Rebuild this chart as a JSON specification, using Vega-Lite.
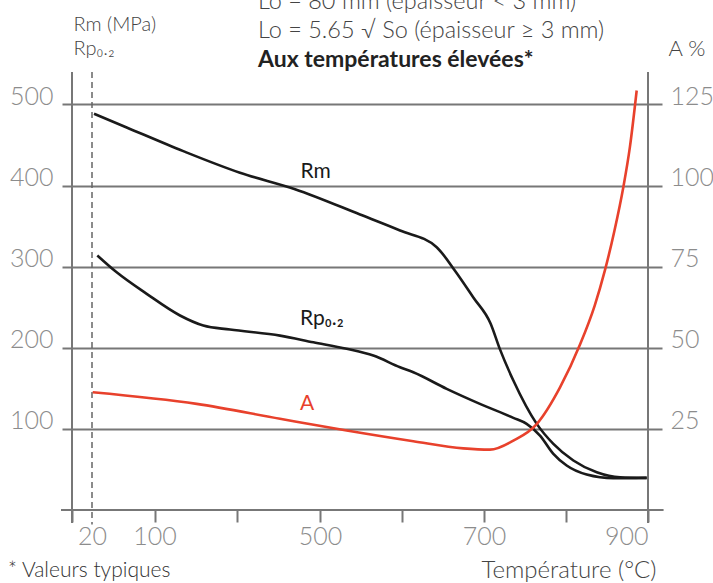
{
  "$schema": "https://vega.github.io/schema/vega-lite/v6.json",
  "width": 576,
  "height": 438,
  "autosize": {"type": "none"},
  "padding": {"left": 72, "top": 72, "right": 65, "bottom": 73},
  "background": "white",
  "config": {
    "view": {"stroke": null},
    "font": "Lato",
    "axis": {
      "domain": false,
      "tickColor": "#777777",
      "tickWidth": 2,
      "gridColor": "#777777",
      "gridWidth": 1.8,
      "labelColor": "#8c8c8c",
      "labelFont": "Lato",
      "labelFontSize": 25,
      "labelFontWeight": 300,
      "titleFont": "Lato",
      "titleFontWeight": 300,
      "titleColor": "#444444"
    }
  },
  "title": {
    "text": ["Lo = 80 mm (épaisseur < 3 mm)", "Lo = 5.65 √ So (épaisseur ≥ 3 mm)"],
    "subtitle": "Aux températures élevées*",
    "anchor": "start",
    "frame": "group",
    "dx": 186,
    "offset": -58,
    "font": "Lato",
    "fontSize": 23.5,
    "fontWeight": 300,
    "color": "#444444",
    "lineHeight": 29,
    "subtitleFont": "Lato",
    "subtitleFontSize": 23,
    "subtitleFontWeight": "bold",
    "subtitleColor": "#222222",
    "subtitlePadding": 7
  },
  "datasets": {
    "mech": [
      {"series": "Rm", "T": 22.6, "value": 488.5},
      {"series": "Rm", "T": 64.4, "value": 471.6},
      {"series": "Rm", "T": 169.6, "value": 442.4},
      {"series": "Rm", "T": 306.6, "value": 415.8},
      {"series": "Rm", "T": 439.6, "value": 395.5},
      {"series": "Rm", "T": 548.8, "value": 364.3},
      {"series": "Rm", "T": 597.6, "value": 344.6},
      {"series": "Rm", "T": 642.3, "value": 324},
      {"series": "Rm", "T": 664.6, "value": 295},
      {"series": "Rm", "T": 687, "value": 262},
      {"series": "Rm", "T": 708, "value": 230},
      {"series": "Rm", "T": 719.5, "value": 198},
      {"series": "Rm", "T": 735.8, "value": 159.6},
      {"series": "Rm", "T": 764.3, "value": 106.2},
      {"series": "Rm", "T": 784.6, "value": 81.5},
      {"series": "Rm", "T": 809, "value": 61},
      {"series": "Rm", "T": 837.5, "value": 46.5},
      {"series": "Rm", "T": 866, "value": 40.3},
      {"series": "Rm", "T": 898.4, "value": 39.6},
      {"series": "Rp", "T": 26.8, "value": 313.8},
      {"series": "Rp", "T": 51.6, "value": 293},
      {"series": "Rp", "T": 90, "value": 266.5},
      {"series": "Rp", "T": 161.6, "value": 239.8},
      {"series": "Rp", "T": 218, "value": 227.4},
      {"series": "Rp", "T": 282.5, "value": 222.5},
      {"series": "Rp", "T": 403.3, "value": 215},
      {"series": "Rp", "T": 484, "value": 206.8},
      {"series": "Rp", "T": 532.5, "value": 198.7},
      {"series": "Rp", "T": 565, "value": 190.4},
      {"series": "Rp", "T": 597.6, "value": 176},
      {"series": "Rp", "T": 613.8, "value": 169.8},
      {"series": "Rp", "T": 654.5, "value": 149.4},
      {"series": "Rp", "T": 695, "value": 130.9},
      {"series": "Rp", "T": 735.8, "value": 113.6},
      {"series": "Rp", "T": 752, "value": 106.2},
      {"series": "Rp", "T": 768.3, "value": 91.8},
      {"series": "Rp", "T": 784.6, "value": 69.2},
      {"series": "Rp", "T": 800.8, "value": 54.8},
      {"series": "Rp", "T": 825.2, "value": 43.7},
      {"series": "Rp", "T": 857.7, "value": 39.1},
      {"series": "Rp", "T": 898.4, "value": 39.6}
    ],
    "elong": [
      {"T": 20.9, "A": 36.3},
      {"T": 202, "A": 32.7},
      {"T": 403.3, "A": 28.1},
      {"T": 532.5, "A": 24.5},
      {"T": 613.8, "A": 21.2},
      {"T": 674.8, "A": 19},
      {"T": 707.3, "A": 18.6},
      {"T": 735.8, "A": 21.4},
      {"T": 764.3, "A": 26.5},
      {"T": 792.7, "A": 37.8},
      {"T": 817.1, "A": 51},
      {"T": 835, "A": 63},
      {"T": 847.6, "A": 74},
      {"T": 859, "A": 86},
      {"T": 869.9, "A": 99.5},
      {"T": 878, "A": 112},
      {"T": 886.2, "A": 129.3}
    ],
    "labels": [
      {"T": 453, "value": 409.6, "text": "Rm"},
      {"T": 451.7, "value": 227.5, "text": "Rp₀.₂"}
    ]
  },
  "layer": [
    {
      "layer": [
        {
          "data": {"name": "mech"},
          "mark": {"type": "line", "interpolate": "monotone", "color": "#1a1a1a", "strokeWidth": 2.6},
          "encoding": {
            "x": {
              "field": "T", "type": "quantitative",
              "scale": {"domain": [0, 20, 100, 500, 900], "range": [0, 20, 82.5, 248, 576], "nice": false, "zero": false},
              "axis": {
                "values": [0, 20, 100, 300, 500, 600, 700, 800, 900],
                "grid": false,
                "tickSize": 12,
                "tickOpacity": {"condition": {"test": "datum.value == 20", "value": 0}, "value": 1},
                "labelPadding": 2,
                "labelExpr": "(datum.value == 0 || datum.value == 300 || datum.value == 600 || datum.value == 800) ? '' : datum.label",
                "title": "Température (°C)",
                "titleFontSize": 24,
                "titleAlign": "right",
                "titleBaseline": "alphabetic",
                "titleX": 584,
                "titleY": 67
              }
            },
            "y": {
              "field": "value", "type": "quantitative",
              "scale": {"domain": [0, 540], "nice": false},
              "axis": {
                "orient": "left",
                "values": [100, 200, 300, 400, 500],
                "grid": true,
                "tickSize": 10,
                "labelPadding": 9,
                "labelAlign": "right",
                "labelBaseline": "alphabetic",
                "title": ["Rm (MPa)", "Rp₀.₂"],
                "titleAngle": 0,
                "titleAlign": "left",
                "titleBaseline": "alphabetic",
                "titleX": 1,
                "titleY": -42,
                "titleFontSize": 20,
                "titleLineHeight": 24
              }
            },
            "detail": {"field": "series"}
          }
        },
        {
          "data": {"values": [{}]},
          "mark": {"type": "rule", "color": "#666666", "strokeWidth": 1.5, "strokeDash": [6, 4]},
          "encoding": {
            "x": {"datum": 20, "type": "quantitative", "scale": {"domain": [0, 20, 100, 500, 900], "range": [0, 20, 82.5, 248, 576], "nice": false, "zero": false}},
            "y": {"datum": 540, "type": "quantitative", "scale": {"domain": [0, 540], "nice": false}},
            "y2": {"datum": -18}
          }
        },
        {
          "data": {"values": [{"T": 0}, {"T": 900}]},
          "mark": {"type": "rule", "color": "#777777", "strokeWidth": 2},
          "encoding": {
            "x": {"field": "T", "type": "quantitative", "scale": {"domain": [0, 20, 100, 500, 900], "range": [0, 20, 82.5, 248, 576], "nice": false, "zero": false}},
            "y": {"datum": 540, "type": "quantitative", "scale": {"domain": [0, 540], "nice": false}},
            "y2": {"datum": -16}
          }
        },
        {
          "data": {"values": [{}]},
          "mark": {"type": "rule", "color": "#777777", "strokeWidth": 2},
          "encoding": {
            "x": {"datum": -11, "type": "quantitative", "scale": {"domain": [0, 20, 100, 500, 900], "range": [0, 20, 82.5, 248, 576], "nice": false, "zero": false}},
            "x2": {"datum": 919},
            "y": {"datum": 0, "type": "quantitative", "scale": {"domain": [0, 540], "nice": false}}
          }
        },
        {
          "data": {"name": "labels"},
          "mark": {"type": "text", "align": "left", "baseline": "alphabetic", "fontSize": 21, "color": "#1a1a1a", "font": "Lato"},
          "encoding": {
            "x": {"field": "T", "type": "quantitative", "scale": {"domain": [0, 20, 100, 500, 900], "range": [0, 20, 82.5, 248, 576], "nice": false, "zero": false}},
            "y": {"field": "value", "type": "quantitative", "scale": {"domain": [0, 540], "nice": false}},
            "text": {"field": "text"}
          }
        },
        {
          "data": {"values": [{"note": "* Valeurs typiques"}]},
          "mark": {"type": "text", "align": "left", "baseline": "alphabetic", "fontSize": 21, "fontWeight": 300, "color": "#333333", "font": "Lato"},
          "encoding": {
            "x": {"datum": -64, "type": "quantitative", "scale": {"domain": [0, 20, 100, 500, 900], "range": [0, 20, 82.5, 248, 576], "nice": false, "zero": false}},
            "y": {"datum": -82, "type": "quantitative", "scale": {"domain": [0, 540], "nice": false}},
            "text": {"field": "note"}
          }
        }
      ]
    },
    {
      "layer": [
        {
          "data": {"name": "elong"},
          "mark": {"type": "line", "interpolate": "monotone", "color": "#e8412c", "strokeWidth": 2.6},
          "encoding": {
            "x": {"field": "T", "type": "quantitative", "scale": {"domain": [0, 20, 100, 500, 900], "range": [0, 20, 82.5, 248, 576], "nice": false, "zero": false}},
            "y": {
              "field": "A", "type": "quantitative",
              "scale": {"domain": [0, 135], "nice": false},
              "axis": {
                "orient": "right",
                "values": [25, 50, 75, 100, 125],
                "grid": false,
                "tickSize": 14,
                "labelPadding": 8,
                "labelAlign": "left",
                "labelBaseline": "alphabetic",
                "title": "A %",
                "titleAngle": 0,
                "titleAlign": "left",
                "titleBaseline": "alphabetic",
                "titleX": 20,
                "titleY": -17,
                "titleFontSize": 22
              }
            }
          }
        },
        {
          "data": {"values": [{"T": 451.7, "A": 30.7, "text": "A"}]},
          "mark": {"type": "text", "align": "left", "baseline": "alphabetic", "fontSize": 21, "color": "#e8412c", "font": "Lato"},
          "encoding": {
            "x": {"field": "T", "type": "quantitative", "scale": {"domain": [0, 20, 100, 500, 900], "range": [0, 20, 82.5, 248, 576], "nice": false, "zero": false}},
            "y": {"field": "A", "type": "quantitative", "scale": {"domain": [0, 135], "nice": false}},
            "text": {"field": "text"}
          }
        }
      ]
    }
  ],
  "resolve": {"scale": {"y": "independent"}}
}
